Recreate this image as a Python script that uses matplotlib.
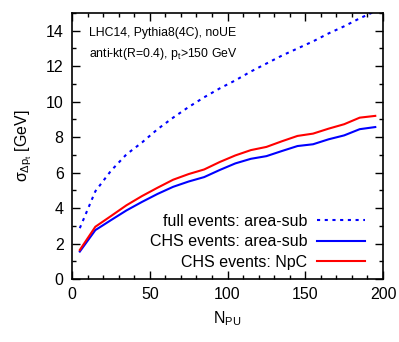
import matplotlib
matplotlib.use("Agg")
import matplotlib.pyplot as plt
from matplotlib.ticker import MultipleLocator

plt.rcParams["font.family"] = ["Liberation Sans", "DejaVu Sans"]
plt.rcParams["mathtext.fontset"] = "custom"
plt.rcParams["mathtext.rm"] = "Liberation Sans"
plt.rcParams["mathtext.it"] = "Liberation Sans"

# ── Data ────────────────────────────────────────────────────────────────────
n_pu = [5, 15, 25, 35, 45, 55, 65, 75, 85, 95,
        105, 115, 125, 135, 145, 155, 165, 175, 185, 195]
full_area = [2.87, 4.95, 6.10, 7.03, 7.70, 8.45, 9.10, 9.70, 10.25, 10.75,
             11.20, 11.70, 12.15, 12.60, 13.00, 13.40, 13.85, 14.25, 14.70, 15.10]
chs_area = [1.55, 2.76, 3.32, 3.87, 4.35, 4.80, 5.20, 5.50, 5.75, 6.15,
            6.52, 6.78, 6.93, 7.22, 7.50, 7.60, 7.88, 8.10, 8.45, 8.57]
chs_npc = [1.64, 2.95, 3.55, 4.16, 4.68, 5.15, 5.60, 5.92, 6.18, 6.60,
           6.97, 7.27, 7.45, 7.77, 8.07, 8.20, 8.48, 8.73, 9.10, 9.20]

BLUE = "#0000ff"
RED = "#ff0000"

fig = plt.figure(figsize=(3.99, 3.42), dpi=100)
ax = fig.add_axes([0.1805, 0.184, 0.7795, 0.778])

ax.plot(n_pu, full_area, color=BLUE, lw=1.5, dashes=(1.5, 2.2),
        label="full events: area-sub")
ax.plot(n_pu, chs_area, color=BLUE, lw=1.5, label="CHS events: area-sub")
ax.plot(n_pu, chs_npc, color=RED, lw=1.5, label="CHS events: NpC")

ax.set_xlim(0, 200)
ax.set_ylim(0, 15)
ax.xaxis.set_major_locator(MultipleLocator(50))
ax.xaxis.set_minor_locator(MultipleLocator(10))
ax.yaxis.set_major_locator(MultipleLocator(2))
ax.yaxis.set_minor_locator(MultipleLocator(1))
ax.tick_params(which="both", direction="in", top=True, right=True,
               labelsize=11.5, width=1)
ax.tick_params(which="major", length=6, pad=6)
ax.tick_params(which="minor", length=3)
for spine in ax.spines.values():
    spine.set_linewidth(1.2)

ax.set_xlabel(r"N$_{\rm PU}$", fontsize=11.5)
ax.set_ylabel(r"$\sigma_{\Delta p_t}$ [GeV]", fontsize=11.5)
ax.xaxis.set_label_coords(0.5, -0.115)
ax.yaxis.set_label_coords(-0.122, 0.5)

ax.text(0.055, 0.925, "LHC14, Pythia8(4C), noUE", transform=ax.transAxes,
        fontsize=8.8, va="center")
ax.text(0.055, 0.845, r"anti-kt(R=0.4), p$_{\rm t}$>150 GeV",
        transform=ax.transAxes, fontsize=8.8, va="center")

ax.legend(loc="lower right", bbox_to_anchor=(0.942, 0.035), frameon=False,
          markerfirst=False, fontsize=11.5, handlelength=3.0,
          handletextpad=0.6, labelspacing=0.35, borderaxespad=0,
          borderpad=0)

fig.savefig("out.png", dpi=100)
